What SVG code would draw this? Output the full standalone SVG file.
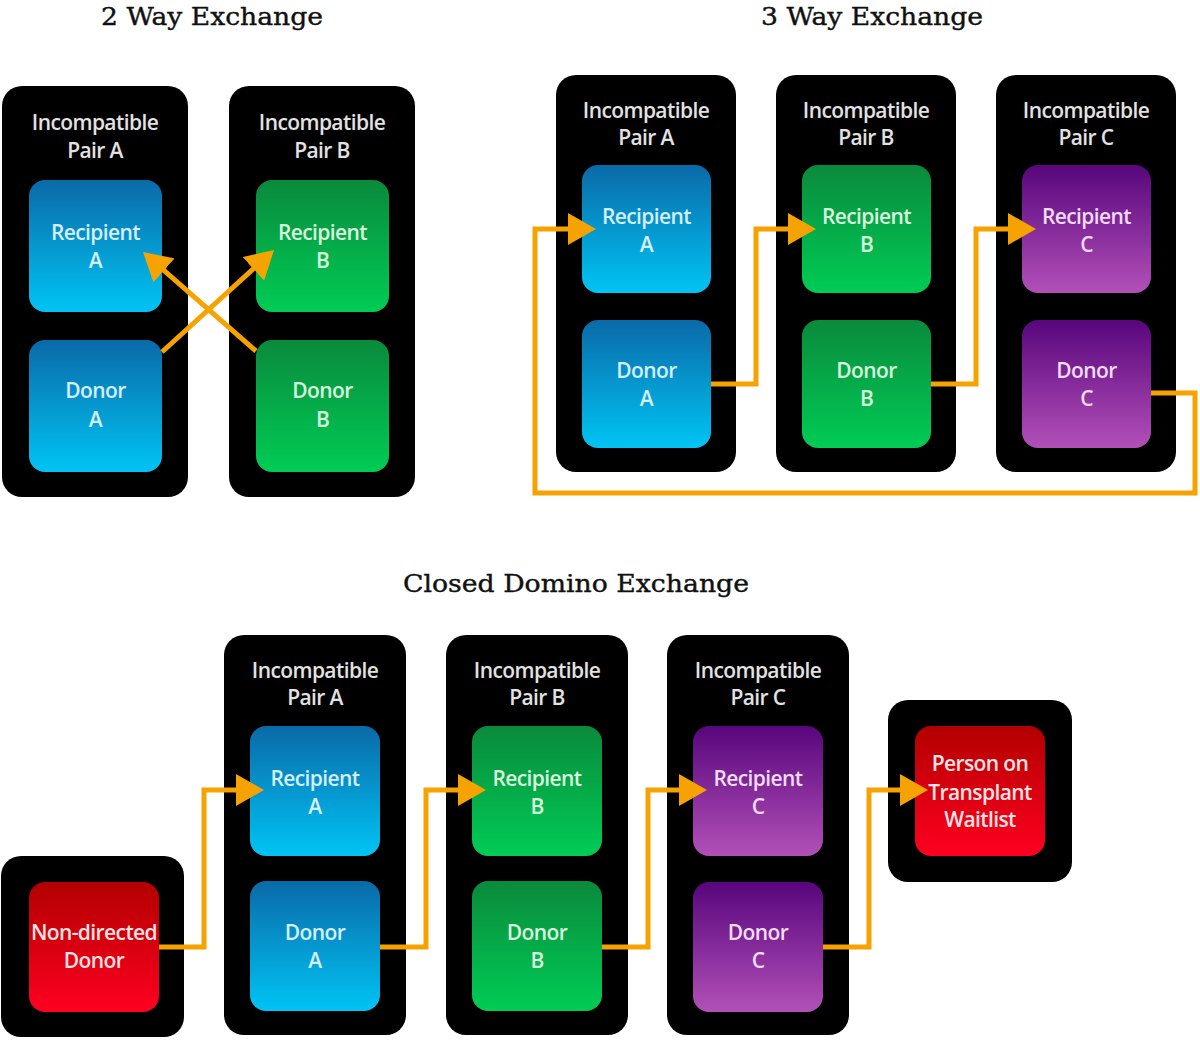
<svg xmlns="http://www.w3.org/2000/svg" width="1200" height="1040" viewBox="0 0 1200 1040">
<defs>
<linearGradient id="gBlue" x1="0" y1="0" x2="0" y2="1"><stop offset="0" stop-color="#0a6aa8"/><stop offset="1" stop-color="#00c4f4"/></linearGradient>
<linearGradient id="gGreen" x1="0" y1="0" x2="0" y2="1"><stop offset="0" stop-color="#0a8a3c"/><stop offset="1" stop-color="#00cc55"/></linearGradient>
<linearGradient id="gPurple" x1="0" y1="0" x2="0" y2="1"><stop offset="0" stop-color="#58067c"/><stop offset="1" stop-color="#b250b8"/></linearGradient>
<linearGradient id="gRed" x1="0" y1="0" x2="0" y2="1"><stop offset="0" stop-color="#b20000"/><stop offset="1" stop-color="#ff0020"/></linearGradient>
<marker id="ah" viewBox="0 0 28 32" refX="4" refY="16" markerWidth="28" markerHeight="32" markerUnits="userSpaceOnUse" orient="auto">
<path d="M0,0 L28,16 L0,32 z" fill="#f6a200"/>
</marker>
</defs>
<style>
.title{font-family:"DejaVu Serif","Liberation Serif",serif;font-size:25px;fill:#111;stroke:#111;stroke-width:0.4px;text-anchor:middle}
.outer{fill:#000}
.hdr{font-family:"Open Sans","Liberation Sans",sans-serif;font-size:21px;font-weight:600;fill:#e2e2e2;text-anchor:middle;letter-spacing:-0.6px}
.lbl{font-family:"Open Sans","Liberation Sans",sans-serif;font-size:21px;font-weight:600;text-anchor:middle;letter-spacing:-0.6px}
.tb{fill:#d4efff}.tg{fill:#d8f6de}.tp{fill:#f0dcf6}.tr{fill:#ffe2e2}
.conn{fill:none;stroke:#f6a200;stroke-width:5;marker-end:url(#ah)}
</style>
<rect width="1200" height="1040" fill="#fff"/>
<text class="title" x="212" y="25" textLength="222" lengthAdjust="spacingAndGlyphs">2 Way Exchange</text>
<text class="title" x="872" y="25" textLength="222" lengthAdjust="spacingAndGlyphs">3 Way Exchange</text>
<text class="title" x="576" y="592" textLength="346" lengthAdjust="spacingAndGlyphs">Closed Domino Exchange</text>

<!-- 2 way -->
<g id="w2-pairA">
<rect class="outer" x="2" y="86" width="186" height="411" rx="20"/>
<text class="hdr" x="95" y="130">Incompatible</text><text class="hdr" x="95" y="158">Pair A</text>
<g id="w2-recA"><rect x="29" y="180" width="133" height="132" rx="16" fill="url(#gBlue)"/>
<text class="lbl tb" x="95.5" y="240">Recipient</text><text class="lbl tb" x="95.5" y="268">A</text></g>
<g id="w2-donA"><rect x="29" y="340" width="133" height="132" rx="16" fill="url(#gBlue)"/>
<text class="lbl tb" x="95.5" y="398">Donor</text><text class="lbl tb" x="95.5" y="427">A</text></g>
</g>
<g id="w2-pairB">
<rect class="outer" x="229" y="86" width="186" height="411" rx="20"/>
<text class="hdr" x="322" y="130">Incompatible</text><text class="hdr" x="322" y="158">Pair B</text>
<g id="w2-recB"><rect x="256" y="180" width="133" height="132" rx="16" fill="url(#gGreen)"/>
<text class="lbl tg" x="322.5" y="240">Recipient</text><text class="lbl tg" x="322.5" y="268">B</text></g>
<g id="w2-donB"><rect x="256" y="340" width="133" height="132" rx="16" fill="url(#gGreen)"/>
<text class="lbl tg" x="322.5" y="398">Donor</text><text class="lbl tg" x="322.5" y="427">B</text></g>
</g>

<!-- 3 way -->
<g id="w3-pairA">
<rect class="outer" x="556" y="75" width="180" height="397" rx="20"/>
<text class="hdr" x="646" y="118">Incompatible</text><text class="hdr" x="646" y="145">Pair A</text>
<g id="w3-recA"><rect x="582" y="165" width="129" height="128" rx="16" fill="url(#gBlue)"/>
<text class="lbl tb" x="646.5" y="224">Recipient</text><text class="lbl tb" x="646.5" y="252">A</text></g>
<g id="w3-donA"><rect x="582" y="320" width="129" height="128" rx="16" fill="url(#gBlue)"/>
<text class="lbl tb" x="646.5" y="378">Donor</text><text class="lbl tb" x="646.5" y="406">A</text></g>
</g>
<g id="w3-pairB">
<rect class="outer" x="776" y="75" width="180" height="397" rx="20"/>
<text class="hdr" x="866" y="118">Incompatible</text><text class="hdr" x="866" y="145">Pair B</text>
<g id="w3-recB"><rect x="802" y="165" width="129" height="128" rx="16" fill="url(#gGreen)"/>
<text class="lbl tg" x="866.5" y="224">Recipient</text><text class="lbl tg" x="866.5" y="252">B</text></g>
<g id="w3-donB"><rect x="802" y="320" width="129" height="128" rx="16" fill="url(#gGreen)"/>
<text class="lbl tg" x="866.5" y="378">Donor</text><text class="lbl tg" x="866.5" y="406">B</text></g>
</g>
<g id="w3-pairC">
<rect class="outer" x="996" y="75" width="180" height="397" rx="20"/>
<text class="hdr" x="1086" y="118">Incompatible</text><text class="hdr" x="1086" y="145">Pair C</text>
<g id="w3-recC"><rect x="1022" y="165" width="129" height="128" rx="16" fill="url(#gPurple)"/>
<text class="lbl tp" x="1086.5" y="224">Recipient</text><text class="lbl tp" x="1086.5" y="252">C</text></g>
<g id="w3-donC"><rect x="1022" y="320" width="129" height="128" rx="16" fill="url(#gPurple)"/>
<text class="lbl tp" x="1086.5" y="378">Donor</text><text class="lbl tp" x="1086.5" y="406">C</text></g>
</g>

<!-- closed domino -->
<g id="cd-ndd">
<rect class="outer" x="1" y="856" width="183" height="181" rx="20"/>
<g id="cd-nddInner"><rect x="29" y="882" width="130" height="130" rx="16" fill="url(#gRed)"/>
<text class="lbl tr" x="94" y="940">Non-directed</text><text class="lbl tr" x="94" y="968">Donor</text></g>
</g>
<g id="cd-pairA">
<rect class="outer" x="224" y="635" width="182" height="400" rx="20"/>
<text class="hdr" x="315" y="678">Incompatible</text><text class="hdr" x="315" y="705">Pair A</text>
<g id="cd-recA"><rect x="250" y="726" width="130" height="130" rx="16" fill="url(#gBlue)"/>
<text class="lbl tb" x="315" y="786">Recipient</text><text class="lbl tb" x="315" y="814">A</text></g>
<g id="cd-donA"><rect x="250" y="881" width="130" height="130" rx="16" fill="url(#gBlue)"/>
<text class="lbl tb" x="315" y="940">Donor</text><text class="lbl tb" x="315" y="968">A</text></g>
</g>
<g id="cd-pairB">
<rect class="outer" x="446" y="635" width="182" height="400" rx="20"/>
<text class="hdr" x="537" y="678">Incompatible</text><text class="hdr" x="537" y="705">Pair B</text>
<g id="cd-recB"><rect x="472" y="726" width="130" height="130" rx="16" fill="url(#gGreen)"/>
<text class="lbl tg" x="537" y="786">Recipient</text><text class="lbl tg" x="537" y="814">B</text></g>
<g id="cd-donB"><rect x="472" y="881" width="130" height="130" rx="16" fill="url(#gGreen)"/>
<text class="lbl tg" x="537" y="940">Donor</text><text class="lbl tg" x="537" y="968">B</text></g>
</g>
<g id="cd-pairC">
<rect class="outer" x="667" y="635" width="182" height="400" rx="20"/>
<text class="hdr" x="758" y="678">Incompatible</text><text class="hdr" x="758" y="705">Pair C</text>
<g id="cd-recC"><rect x="693" y="726" width="130" height="130" rx="16" fill="url(#gPurple)"/>
<text class="lbl tp" x="758" y="786">Recipient</text><text class="lbl tp" x="758" y="814">C</text></g>
<g id="cd-donC"><rect x="693" y="882" width="130" height="130" rx="16" fill="url(#gPurple)"/>
<text class="lbl tp" x="758" y="940">Donor</text><text class="lbl tp" x="758" y="968">C</text></g>
</g>
<g id="cd-waitlist">
<rect class="outer" x="888" y="700" width="184" height="182" rx="20"/>
<g id="cd-waitInner"><rect x="915" y="726" width="130" height="130" rx="16" fill="url(#gRed)"/>
<text class="lbl tr" x="980" y="771">Person on</text><text class="lbl tr" x="980" y="800">Transplant</text><text class="lbl tr" x="980" y="827">Waitlist</text></g>
</g>

<g id="connectors">
<path class="conn" d="M162,352 L256.3,266.2"/>
<path class="conn" d="M256,351 L161,267.8"/>
<path class="conn" d="M711,384 H756 V229 H792"/>
<path class="conn" d="M931,384 H976 V229 H1012"/>
<path class="conn" d="M1151,393 H1195 V493 H535 V229 H572"/>
<path class="conn" d="M159,947 H204 V790 H240"/>
<path class="conn" d="M380,947 H426 V790 H462"/>
<path class="conn" d="M602,947 H648 V790 H683"/>
<path class="conn" d="M823,947 H869 V790 H904"/>
</g>
</svg>
